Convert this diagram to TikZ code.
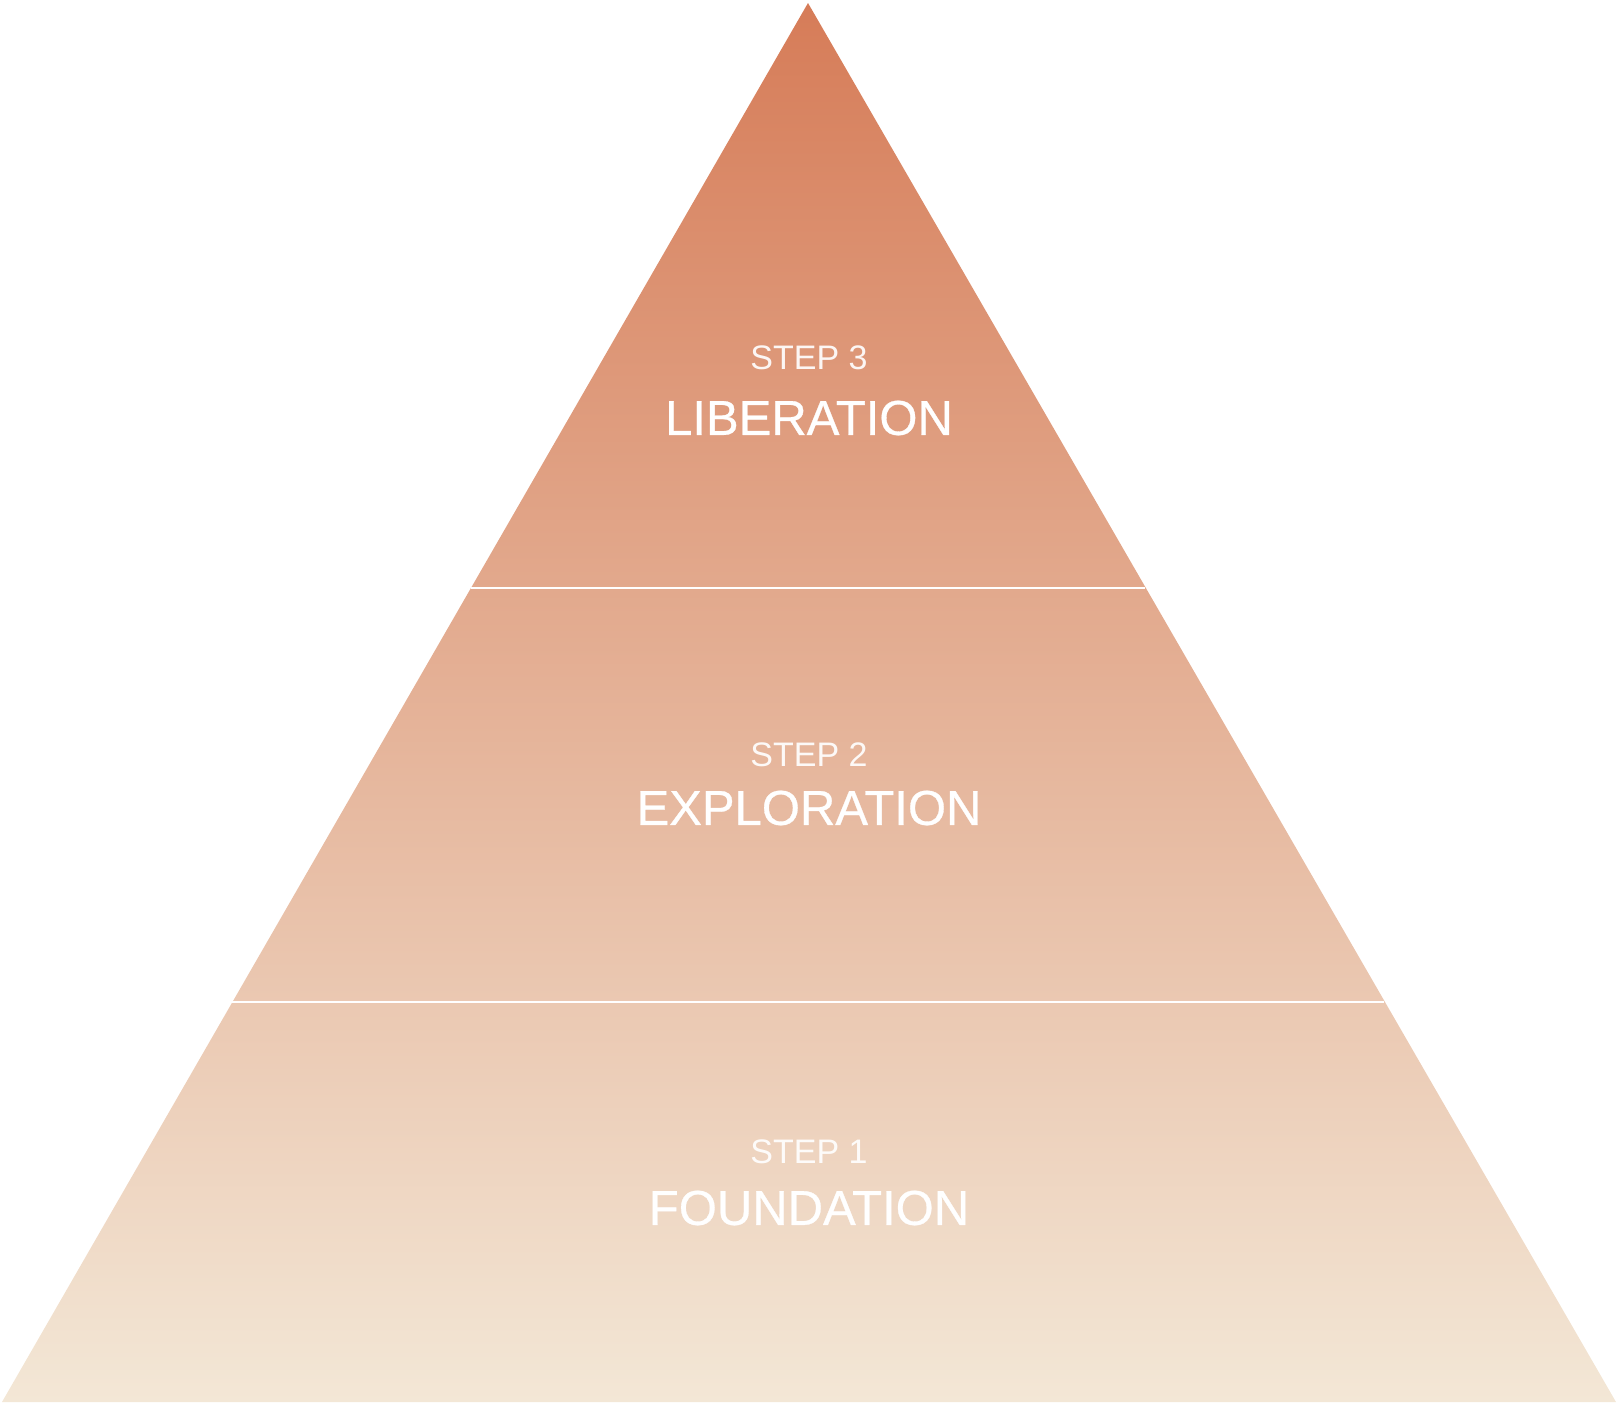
\documentclass[tikz,border=0pt]{standalone}
\usepackage{fontspec}
\setmainfont{Liberation Sans}
\newfontfamily\titlefont[FakeBold=0.6]{Liberation Sans}
\definecolor{ctop}{RGB}{214,124,88}
\definecolor{cmid}{RGB}{233,188,160}
\definecolor{cbot}{RGB}{243,231,214}
\tikzset{
  steplabel/.style={text=white, font=\fontsize{34}{34}\selectfont, opacity=0.92, anchor=center, inner sep=0pt},
  titlelabel/.style={text=white, font=\titlefont\fontsize{49}{49}\selectfont, anchor=center, inner sep=0pt},
  divider/.style={draw=white, line width=2.5pt}
}
\begin{document}
\begin{tikzpicture}[x=1pt,y=-1pt]
\useasboundingbox (0,0) rectangle (1618,1406);
\coordinate (apex) at (808,3);
\coordinate (bl) at (2,1402);
\coordinate (br) at (1616,1402);
\shade[top color=ctop, middle color=cmid, bottom color=cbot] (apex) -- (br) -- (bl) -- cycle;
\coordinate (d1l) at (471,588);
\coordinate (d1r) at (1145,588);
\coordinate (d2l) at (232,1002);
\coordinate (d2r) at (1384,1002);
\draw[divider] (d1l) -- (d1r);
\draw[divider] (d2l) -- (d2r);
\node[steplabel] (s3) at (809,358) {STEP 3};
\node[titlelabel] (t3) at (809,418) {LIBERATION};
\node[steplabel] (s2) at (809,755) {STEP 2};
\node[titlelabel] (t2) at (809,808) {EXPLORATION};
\node[steplabel] (s1) at (809,1152) {STEP 1};
\node[titlelabel] (t1) at (809,1208) {FOUNDATION};
\end{tikzpicture}
\end{document}
